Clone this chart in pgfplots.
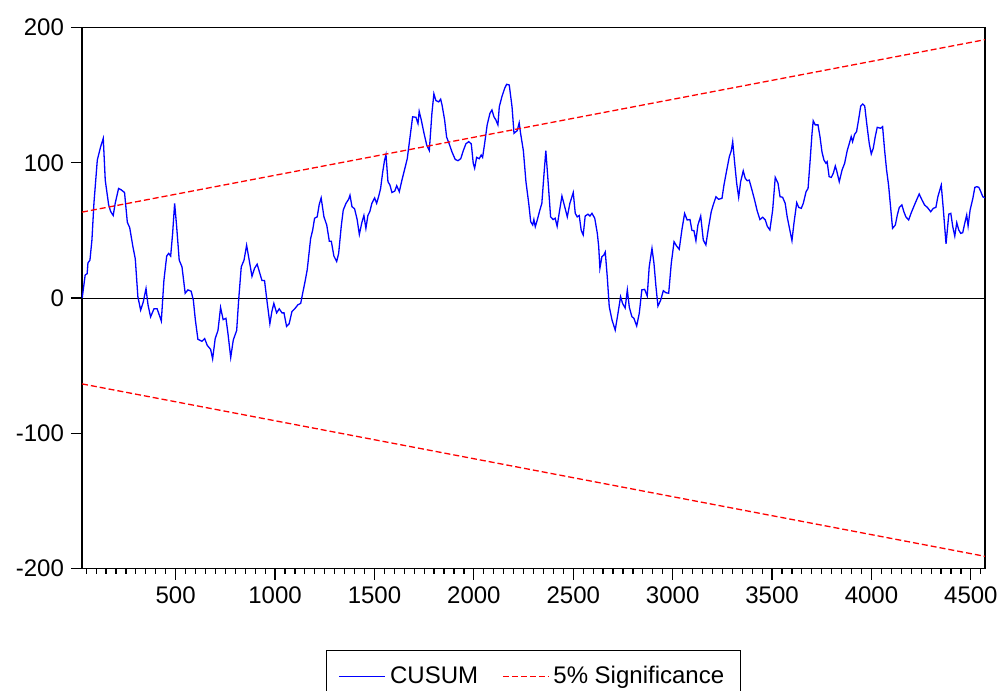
\documentclass[border=0pt]{standalone}
\usepackage{pgfplots}
\pgfplotsset{compat=1.18}
\usepackage{fontspec}
\setmainfont{Liberation Sans}
\begin{document}
\begin{tikzpicture}
\useasboundingbox (-41pt,-61.25pt) rectangle (457.5pt,284.25pt);
\begin{axis}[
  at={(0pt,0pt)}, anchor=south west,
  scale only axis, width=451.5pt, height=270.5pt,
  xmin=29, xmax=4571, ymin=-200, ymax=200,
  axis line style={line width=0.75pt},
  xtick={500,1000,...,4500},
  minor xtick={50,100,...,4550},
  ytick={-200,-100,0,100,200},
  tick align=outside,
  xtick pos=bottom, ytick pos=left,
  major tick length=5.5pt, minor tick length=2.5pt,
  tick style={black, line width=0.6pt},
  every tick label/.append style={font=\fontsize{12}{14}\selectfont},
  /pgf/number format/assume math mode=true,
  /pgf/number format/1000 sep={},
  legend columns=2,
  legend cell align=left,
  legend image code/.code={\draw[#1] (0pt,0pt) -- (23pt,0pt);},
  legend style={at={(0.5,-0.1506)}, anchor=north, draw=black, line width=0.6pt,
    font=\fontsize{12}{14}\selectfont, inner xsep=6pt, inner ysep=6pt,
    /tikz/every even column/.append style={column sep=10pt}},
]
\addplot[black, line width=0.5pt, forget plot] coordinates {(29,0) (4571,0)};
\addplot[blue, line width=0.65pt] coordinates {
(30,0)(45,17)(55,18)(59,26)(69,28)(79,43)(89,70)(106,102)(123,112)(136,118)(146,87)(163,69)(173,64)(186,61)(196,70)(213,81)(226,80)(243,78)(257,56)(269,52)(285,38)(297,29)(310,1)(324,-9)(337,-3)(351,7)(361,-5)(374,-14)(391,-8)(407,-8)(428,-17)(441,13)(455,31)(465,33)(475,31)(485,48)(495,70)(505,53)(518,28)(532,23)(548,3.5)(562,6)(578,5)(589,-1.5)(599,-16)(612,-30.5)(632,-32)(646,-30)(659,-35)(676,-38)(686,-45)(699,-30)(713,-24)(726,-7)(739,-16)(753,-15)(763,-26)(777,-44)(790,-31)(807,-24)(817,-1.5)(830,23)(844,28)(857,39)(870,28)(884,16)(897,22)(910,25)(921,19.5)(934,13)(947,13)(961,-4)(974,-19)(984,-10)(994,-4)(1008,-11)(1021,-8)(1035,-11)(1045,-11)(1058,-21)(1071,-19)(1085,-10)(1099,-8)(1115,-5)(1129,-4)(1139,3.5)(1152,13)(1162,21)(1179,44)(1189,50)(1199,59)(1212,60)(1222,69)(1232,74)(1246,60)(1260,54)(1273,42)(1283,42)(1296,31)(1310,27)(1320,33)(1333,53)(1343,65)(1357,70)(1370,73)(1377,76)(1387,67.5)(1400,66)(1413,58)(1424,47)(1437,56)(1447,61)(1457,51.5)(1467,61)(1477,64)(1487,70)(1501,74)(1511,70)(1521,75)(1531,81)(1541,92.6)(1551,102)(1558,106)(1568,86)(1578,83.5)(1588,78)(1602,79)(1612,83)(1625,78.6)(1638,87)(1655,97)(1665,103)(1679,119)(1692,134)(1709,133.6)(1719,129)(1725,138)(1735,132)(1749,122)(1763,113)(1776,109)(1789,136.6)(1799,151)(1809,146)(1823,145)(1833,147)(1840,142.7)(1853,131.6)(1863,119)(1876,114)(1890,108)(1906,102.5)(1920,101.5)(1934,103)(1947,109)(1960,114)(1974,115.6)(1987,114)(1997,99.6)(2004,96)(2014,104)(2027,103)(2037,105.7)(2044,104)(2054,114)(2067,128)(2081,136.6)(2091,139)(2101,134)(2111,131.6)(2121,128)(2128,141.4)(2141,148.8)(2155,155)(2165,158)(2178,157.5)(2192,141.4)(2202,121.8)(2212,123)(2218,123.7)(2228,129.6)(2235,121.8)(2249,109)(2262,86)(2276,70)(2286,56.4)(2296,54)(2302,58)(2309,52.7)(2319,57.7)(2332,65)(2342,70)(2352,90)(2362,109)(2373,87)(2386,60)(2399,58)(2409,59)(2419,53)(2429,62.6)(2443,75.4)(2457,67.5)(2470,60)(2483,70)(2500,78)(2510,62.6)(2520,60)(2530,61)(2540,50)(2550,46.6)(2560,60.6)(2574,62)(2584,60.6)(2594,62.6)(2608,59)(2621,47.8)(2628,38)(2634,22)(2644,30.5)(2654,31.8)(2661,34)(2671,15.7)(2681,-6.4)(2695,-16.3)(2711,-23.7)(2725,-11.3)(2738,1)(2748,-4)(2761,-7.4)(2772,6)(2782,-6.9)(2795,-13.8)(2805,-15)(2819,-20.7)(2832,-11.3)(2845,6)(2859,6.4)(2872,1.5)(2882,23)(2896,36.7)(2906,25.6)(2916,8.4)(2926,-6)(2940,-1.5)(2953,5.4)(2966,3.9)(2980,3.5)(2993,25.6)(3007,41.6)(3020,38.4)(3033,36)(3047,51)(3060,62.5)(3073,57.7)(3087,58)(3097,50)(3107,49.8)(3117,42.4)(3127,54)(3141,60.6)(3154,42.9)(3167,39.2)(3181,52.7)(3194,63.8)(3204,68.8)(3218,74.9)(3231,73)(3248,73.7)(3258,83.5)(3272,94.6)(3285,104.5)(3295,109)(3302,115.6)(3312,99.6)(3322,84.8)(3332,74.5)(3342,86)(3355,94)(3365,88.5)(3375,86.7)(3385,87.2)(3399,79.8)(3412,72.5)(3425,64.5)(3439,58)(3453,59.7)(3466,57.7)(3476,53)(3489,50.3)(3503,65)(3516,89.2)(3530,84.8)(3540,74.9)(3553,74.5)(3566,70)(3576,60)(3586,52.7)(3600,42.4)(3610,55.2)(3624,70.5)(3634,67)(3647,66.3)(3657,70)(3671,78.6)(3681,81)(3691,100.8)(3701,121.8)(3707,131)(3717,128)(3731,128)(3741,119.3)(3751,108)(3761,102)(3771,99.6)(3777,100.8)(3787,89.7)(3798,89.2)(3808,92.2)(3818,97.6)(3825,94.1)(3838,86)(3852,94.6)(3865,99.6)(3878,109)(3888,114)(3898,119.3)(3905,115.6)(3915,121)(3925,123)(3935,131.6)(3946,142)(3956,143.4)(3966,142)(3976,129.2)(3989,114)(3999,106.5)(4009,110.7)(4019,119.3)(4029,126.2)(4046,125.5)(4056,126.7)(4066,109.4)(4076,94.6)(4086,83.5)(4096,67.5)(4106,51.5)(4120,54)(4130,61.4)(4140,67)(4153,68.8)(4163,63.8)(4173,60)(4187,57.7)(4200,63)(4214,68)(4227,72.5)(4240,76.9)(4254,72.5)(4267,68.8)(4281,67)(4298,63.8)(4311,66.3)(4324,67)(4334,74.9)(4351,83.5)(4361,66.3)(4375,40)(4389,62)(4399,62.6)(4409,52.7)(4419,45.8)(4429,55.7)(4439,50.3)(4449,47.8)(4459,48.3)(4469,55.2)(4479,61.4)(4486,53.2)(4496,65)(4510,73.7)(4520,81.8)(4530,82.3)(4540,81.8)(4550,78.6)(4560,74.9)(4571,74)
};
\addlegendentry{CUSUM}
\addplot[red, line width=0.65pt, dash pattern=on 3pt off 1.5pt] coordinates {(29,63.5) (4571,191)};
\addlegendentry{5\% Significance}
\addplot[red, line width=0.65pt, dash pattern=on 3pt off 1.5pt, forget plot] coordinates {(29,-63.5) (4571,-191)};
\end{axis}
\end{tikzpicture}
\end{document}
